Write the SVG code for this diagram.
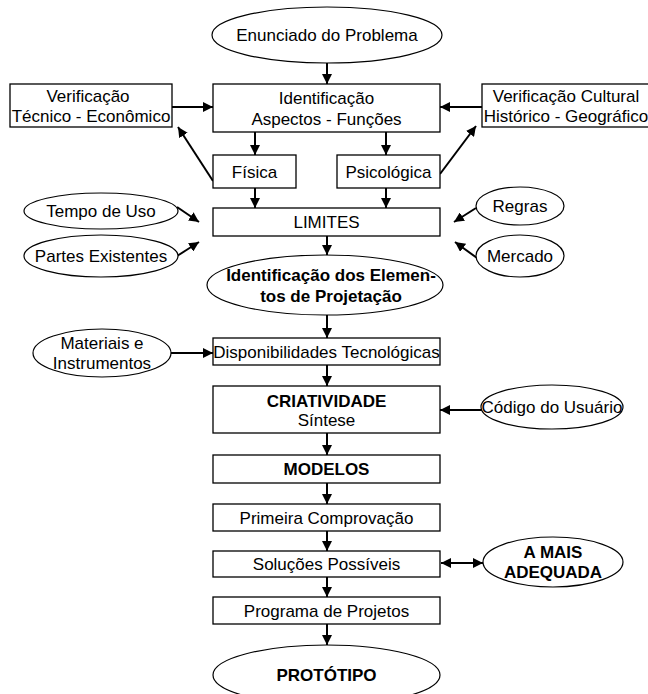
<svg xmlns="http://www.w3.org/2000/svg" width="648" height="694" viewBox="0 0 648 694">
  <style>
    .box { fill: #fff; stroke: #000; stroke-width: 1.3; }
    .ell { fill: #fff; stroke: #000; stroke-width: 1.2; }
    text { font-family: "Liberation Sans", Arial, sans-serif; font-size: 17px; fill: #000; text-anchor: middle; }
    .b { font-weight: bold; }
    .wire { fill: none; stroke: #000; stroke-width: 2; marker-end: url(#tip); }
    .both { marker-start: url(#tip); }
  </style>
  <defs>
    <marker id="tip" markerUnits="userSpaceOnUse" markerWidth="10" markerHeight="10" refX="10" refY="5" orient="auto-start-reverse">
      <path d="M0,0 L10,5 L0,10 z" fill="#000"/>
    </marker>
  </defs>

  <rect width="648" height="694" fill="#fff"/>

  <g id="connectors">
    <line class="wire" x1="327" y1="63" x2="327" y2="84"/>
    <line class="wire" x1="172" y1="107" x2="213" y2="107"/>
    <line class="wire" x1="482" y1="107" x2="440" y2="107"/>
    <line class="wire" x1="255" y1="132" x2="255" y2="155"/>
    <line class="wire" x1="386" y1="132" x2="386" y2="155"/>
    <line class="wire" x1="213" y1="181" x2="178" y2="127"/>
    <line class="wire" x1="440" y1="174" x2="476" y2="126"/>
    <line class="wire" x1="255" y1="188" x2="255" y2="208"/>
    <line class="wire" x1="386" y1="188" x2="386" y2="208"/>
    <line class="wire" x1="177" y1="207" x2="199" y2="222"/>
    <line class="wire" x1="177" y1="256" x2="199" y2="242"/>
    <line class="wire" x1="476" y1="208" x2="454" y2="222"/>
    <line class="wire" x1="477" y1="258" x2="455" y2="242"/>
    <line class="wire" x1="327" y1="236" x2="327" y2="255"/>
    <line class="wire" x1="327" y1="315" x2="327" y2="338"/>
    <line class="wire" x1="171" y1="353" x2="213" y2="353"/>
    <line class="wire" x1="327" y1="365" x2="327" y2="386"/>
    <line class="wire" x1="482" y1="410" x2="440" y2="410"/>
    <line class="wire" x1="327" y1="433" x2="327" y2="455"/>
    <line class="wire" x1="327" y1="483" x2="327" y2="504"/>
    <line class="wire" x1="327" y1="531" x2="327" y2="551"/>
    <line class="wire both" x1="441" y1="563" x2="483" y2="563"/>
    <line class="wire" x1="327" y1="577" x2="327" y2="597"/>
    <line class="wire" x1="327" y1="624" x2="327" y2="645"/>
  </g>

  <g id="enunciado">
    <ellipse class="ell" cx="327" cy="35" rx="115" ry="28"/>
    <text x="327" y="41">Enunciado do Problema</text>
  </g>

  <g id="identificacao">
    <rect class="box" x="213" y="84" width="227" height="48"/>
    <text x="326.5" y="104">Identificação</text>
    <text x="326.5" y="125">Aspectos - Funções</text>
  </g>

  <g id="verificacao-tecnico">
    <rect class="box" x="10" y="84" width="162" height="43"/>
    <text x="88" y="102">Verificação</text>
    <text x="91" y="122">Técnico - Econômico</text>
  </g>

  <g id="verificacao-cultural">
    <rect class="box" x="482" y="84" width="170" height="43"/>
    <text x="566" y="102">Verificação Cultural</text>
    <text x="566" y="122">Histórico - Geográfico</text>
  </g>

  <g id="fisica">
    <rect class="box" x="213" y="155" width="83" height="33"/>
    <text x="254.5" y="178">Física</text>
  </g>

  <g id="psicologica">
    <rect class="box" x="337" y="155" width="103" height="33"/>
    <text x="388.5" y="178">Psicológica</text>
  </g>

  <g id="tempo-de-uso">
    <ellipse class="ell" cx="101" cy="211" rx="77" ry="18"/>
    <text x="101" y="217">Tempo de Uso</text>
  </g>

  <g id="partes-existentes">
    <ellipse class="ell" cx="101" cy="256" rx="77" ry="21"/>
    <text x="101" y="262">Partes Existentes</text>
  </g>

  <g id="limites">
    <rect class="box" x="213" y="208" width="227" height="28"/>
    <text x="326.5" y="228">LIMITES</text>
  </g>

  <g id="regras">
    <ellipse class="ell" cx="520" cy="206" rx="44" ry="19"/>
    <text x="520" y="212">Regras</text>
  </g>

  <g id="mercado">
    <ellipse class="ell" cx="520" cy="256" rx="44" ry="21"/>
    <text x="520" y="262">Mercado</text>
  </g>

  <g id="elementos">
    <ellipse class="ell" cx="325" cy="285" rx="118" ry="30"/>
    <text class="b" x="331" y="281">Identificação dos Elemen-</text>
    <text class="b" x="331" y="302">tos de Projetação</text>
  </g>

  <g id="materiais">
    <ellipse class="ell" cx="102" cy="353" rx="69" ry="24"/>
    <text x="102" y="349">Materiais e</text>
    <text x="102" y="369">Instrumentos</text>
  </g>

  <g id="disponibilidades">
    <rect class="box" x="213" y="338" width="227" height="27"/>
    <text x="326.5" y="358">Disponibilidades Tecnológicas</text>
  </g>

  <g id="criatividade">
    <rect class="box" x="213" y="386" width="227" height="47"/>
    <text class="b" x="326.5" y="407">CRIATIVIDADE</text>
    <text x="326.5" y="426">Síntese</text>
  </g>

  <g id="codigo-do-usuario">
    <ellipse class="ell" cx="552" cy="407" rx="71" ry="22"/>
    <text x="552" y="413">Código do Usuário</text>
  </g>

  <g id="modelos">
    <rect class="box" x="213" y="455" width="227" height="28"/>
    <text class="b" x="326.5" y="475">MODELOS</text>
  </g>

  <g id="primeira-comprovacao">
    <rect class="box" x="213" y="504" width="227" height="27"/>
    <text x="326.5" y="524">Primeira Comprovação</text>
  </g>

  <g id="solucoes">
    <rect class="box" x="213" y="551" width="227" height="26"/>
    <text x="326.5" y="570">Soluções Possíveis</text>
  </g>

  <g id="mais-adequada">
    <ellipse class="ell" cx="553" cy="562" rx="70" ry="25"/>
    <text class="b" x="553" y="558">A MAIS</text>
    <text class="b" x="553" y="578">ADEQUADA</text>
  </g>

  <g id="programa">
    <rect class="box" x="213" y="597" width="227" height="27"/>
    <text x="326.5" y="617">Programa de Projetos</text>
  </g>

  <g id="prototipo">
    <ellipse class="ell" cx="326.5" cy="675" rx="113.5" ry="30"/>
    <text class="b" x="326.5" y="681">PROTÓTIPO</text>
  </g>
</svg>
